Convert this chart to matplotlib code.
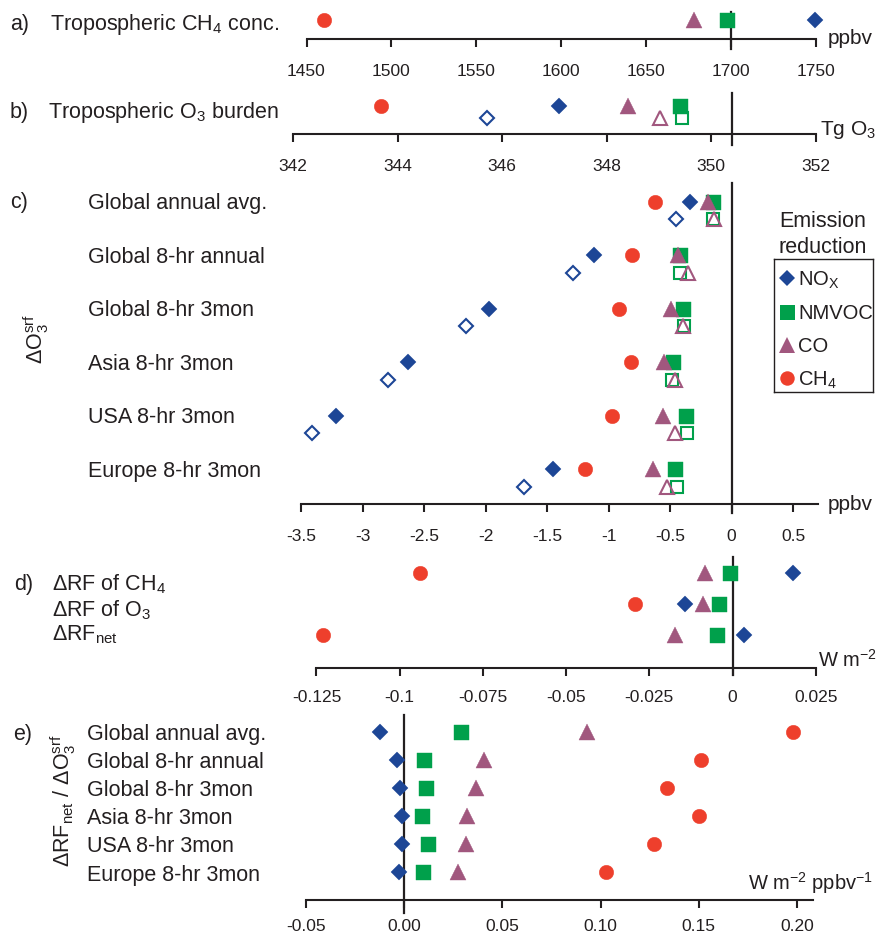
import matplotlib
matplotlib.use("Agg")
import matplotlib.pyplot as plt

plt.rcParams['font.family'] = ['Liberation Sans', 'DejaVu Sans']
plt.rcParams['mathtext.fontset'] = 'custom'
plt.rcParams['mathtext.rm'] = 'Liberation Sans'
plt.rcParams['mathtext.it'] = 'Liberation Sans:italic'
plt.rcParams['axes.unicode_minus'] = False

W, H = 876, 938
INK = '#231f20'

# emission reduction experiments
sources = ['NOx', 'NMVOC', 'CO', 'CH4']
legend_labels = ['NO$_\\mathregular{X}$', 'NMVOC', 'CO', 'CH$_\\mathregular{4}$']
colors = ['#1d4696', '#00a04b', '#a1577e', '#ee3f2c']
markers = ['D', 's', '^', 'o']

# a) tropospheric CH4 conc. (ppbv), order = sources
ch4_conc = [1749.4, 1698.0, 1678.5, 1460.1]
ch4_base = 1700
ch4_ticks = [1450, 1500, 1550, 1600, 1650, 1700, 1750]

# b) tropospheric O3 burden (Tg O3)
o3_burden = [347.09, 349.40, 348.40, 343.69]
o3_burden_open = [345.71, 349.45, 349.02]   # NOx, NMVOC, CO (hollow)
o3_base = 350.4
o3_ticks = [342, 344, 346, 348, 350, 352]

# c) change in surface O3 (ppbv)
metrics = ['Global annual avg.', 'Global 8-hr annual', 'Global 8-hr 3mon',
           'Asia 8-hr 3mon', 'USA 8-hr 3mon', 'Europe 8-hr 3mon']
do3_nox = [-0.34, -1.118, -1.97, -2.63, -3.216, -1.451]
do3_nmvoc = [-0.155, -0.417, -0.395, -0.479, -0.37, -0.463]
do3_co = [-0.19, -0.439, -0.494, -0.55, -0.556, -0.639]
do3_ch4 = [-0.624, -0.812, -0.917, -0.815, -0.969, -1.195]
do3_nox_open = [-0.454, -1.287, -2.16, -2.79, -3.41, -1.69]
do3_nmvoc_open = [-0.155, -0.423, -0.386, -0.485, -0.361, -0.448]
do3_co_open = [-0.14, -0.355, -0.395, -0.463, -0.463, -0.525]
do3_ticks = [-3.5, -3, -2.5, -2, -1.5, -1, -0.5, 0, 0.5]

# d) radiative forcing (W m-2)
rf_rows = ['ΔRF of CH$_\\mathregular{4}$', 'ΔRF of O$_\\mathregular{3}$',
           'ΔRF$_\\mathregular{net}$']
rf_nox = [0.0183, -0.0142, 0.0036]
rf_nmvoc = [-0.0009, -0.0040, -0.0047]
rf_co = [-0.0083, -0.0090, -0.0172]
rf_ch4 = [-0.0940, -0.0292, -0.1229]
rf_ticks = [-0.125, -0.1, -0.075, -0.05, -0.025, 0, 0.025]
rf_ticklabels = ['-0.125', '-0.1', '-0.075', '-0.05', '-0.025', '0', '0.025']

# e) net RF per unit surface O3 change (W m-2 ppbv-1)
eff_nox = [-0.0120, -0.0034, -0.0021, -0.0012, -0.0012, -0.0026]
eff_nmvoc = [0.0290, 0.0103, 0.0112, 0.0090, 0.0124, 0.0096]
eff_co = [0.093, 0.0409, 0.0366, 0.0323, 0.0318, 0.0275]
eff_ch4 = [0.198, 0.151, 0.134, 0.150, 0.127, 0.103]
eff_ticks = [-0.05, 0.0, 0.05, 0.10, 0.15, 0.20]
eff_ticklabels = ['-0.05', '0.00', '0.05', '0.10', '0.15', '0.20']

FILLED_MS = {'D': 8.2, 's': 10.8, '^': 11.5, 'o': 10.4}
HOLLOW_MS = {'D': 7.4, 's': 9.3, '^': 10.2}

fig = plt.figure(figsize=(W / 100, H / 100), dpi=100)


def panel(lo, hi, x0, x1, top, axis, row0, sp, pad=12):
    # axes whose bottom spine is the drawn axis line, rows counted downward
    ax = fig.add_axes([x0 / W, 1 - axis / H, (x1 - x0) / W, (axis - top) / H])
    ax.set_xlim(lo, hi)
    ax.set_ylim((axis - row0) / sp, (top - row0) / sp)
    ax.set_facecolor('none')
    for s in ['left', 'right', 'top']:
        ax.spines[s].set_visible(False)
    ax.spines['bottom'].set_linewidth(1.5)
    ax.spines['bottom'].set_color(INK)
    ax.set_yticks([])
    ax.tick_params(axis='x', direction='out', length=6, width=1.5, color=INK,
                   pad=pad, labelsize=12.5, labelcolor=INK)
    return ax


def ref_line(ax, x, y_top, y_bot, top, axis):
    h = axis - top
    ax.axvline(x, ymin=(axis - y_bot) / h, ymax=(axis - y_top) / h,
               color=INK, lw=1.6, clip_on=False, zorder=1)


def dots(ax, xs, ys, i, hollow=False):
    m = markers[i]
    if hollow:
        ax.plot(xs, ys, ls='none', marker=m, ms=HOLLOW_MS[m], mfc='none',
                mec=colors[i], mew=1.5, clip_on=False, zorder=3)
    else:
        ax.plot(xs, ys, ls='none', marker=m, ms=FILLED_MS[m], mfc=colors[i],
                mec=colors[i], mew=0.3, clip_on=False, zorder=4)


def label(x, y, s, size=15.5, **kw):
    fig.text(x / W, 1 - y / H, s, fontsize=size, color=INK, va='baseline',
             ha='left', **kw)


# ---- a) CH4 concentration
ax = panel(1450, 1750, 306.5, 815.7, 5, 39.3, 20, 20)
ax.set_xticks(ch4_ticks)
ref_line(ax, ch4_base, 12, 49, 5, 39.3)
for i in range(len(sources)):
    dots(ax, [ch4_conc[i]], [0], i)
label(10, 30, 'a)')
label(50, 30, 'Tropospheric CH$_\\mathregular{4}$ conc.')
label(828, 44, 'ppbv', 15)

# ---- b) O3 burden
sp_b = 12.3
ax = panel(342, 352, 293, 815.7, 85, 134.3, 106, sp_b)
ax.set_xticks(o3_ticks)
ref_line(ax, o3_base, 93, 145, 85, 134.3)
for i in range(len(o3_burden_open)):
    dots(ax, [o3_burden_open[i]], [1], i, hollow=True)
for i in range(len(sources)):
    dots(ax, [o3_burden[i]], [0], i)
label(10, 118, 'b)')
label(48, 118, 'Tropospheric O$_\\mathregular{3}$ burden')
label(820, 135, 'Tg O$_\\mathregular{3}$', 15)

# ---- c) surface O3 change
sp_c = 53.5
off_c = 17.7 / sp_c
rows = list(range(len(metrics)))
ax = panel(-3.5, 0.70, 301, 817.8, 175, 504.3, 201.7, sp_c)
ax.set_xticks(do3_ticks)
ax.set_xticklabels([f'{t:g}' for t in do3_ticks])
ref_line(ax, 0, 183.3, 513, 175, 504.3)
c_open = [do3_nox_open, do3_nmvoc_open, do3_co_open]
c_filled = [do3_nox, do3_nmvoc, do3_co, do3_ch4]
for i, vals in enumerate(c_open):
    dots(ax, vals, [r + off_c for r in rows], i, hollow=True)
for i, vals in enumerate(c_filled):
    dots(ax, vals, rows, i)
label(10, 208, 'c)')
for r, name in zip(rows, metrics):
    label(88, 201.7 + sp_c * r + 7.5, name)
fig.text(36 / W, 1 - 339 / H, 'ΔO$_\\mathregular{3}^\\mathregular{srf}$',
         fontsize=15.5, color=INK, rotation=90, ha='center', va='center')
label(828, 510, 'ppbv', 15)

# legend
lg = fig.add_axes([774.3 / W, 1 - 392.3 / H, (872.7 - 774.3) / W, (392.3 - 259.3) / H])
lg.set_xlim(0, 872.7 - 774.3)
lg.set_ylim(392.3 - 259.3, 0)
lg.set_xticks([])
lg.set_yticks([])
for s in lg.spines.values():
    s.set_linewidth(1.0)
    s.set_color(INK)
for i, name in enumerate(legend_labels):
    yy = 19 + 33.3 * i
    lg.plot([13], [yy], ls='none', marker=markers[i], ms=FILLED_MS[markers[i]],
            color=colors[i], mew=0)
    lg.text(24, yy + 7, name, fontsize=14.5, color=INK, va='baseline', ha='left')
fig.text(823 / W, 1 - 226.7 / H, 'Emission', fontsize=15.5, color=INK,
         ha='center', va='baseline')
fig.text(823 / W, 1 - 252.7 / H, 'reduction', fontsize=15.5, color=INK,
         ha='center', va='baseline')

# ---- d) radiative forcing
sp_d = 30.9
ax = panel(-0.125, 0.025, 316.5, 815.7, 550, 668, 573.3, sp_d, pad=10)
ax.set_xticks(rf_ticks)
ax.set_xticklabels(rf_ticklabels)
ref_line(ax, 0, 556.7, 675, 550, 668)
rows_d = list(range(len(rf_rows)))
for i, vals in enumerate([rf_nox, rf_nmvoc, rf_co, rf_ch4]):
    dots(ax, vals, rows_d, i)
label(14, 590, 'd)')
for y, name in zip([590, 616.7, 640], rf_rows):
    label(52, y, name)
label(818, 666.7, 'W m$^\\mathregular{-2}$', 14.5)

# ---- e) RF efficiency
sp_e = 28.1
ax = panel(-0.05, 0.2083, 305.7, 813.4, 705, 900, 731.7, sp_e, pad=8)
ax.set_xticks(eff_ticks)
ax.set_xticklabels(eff_ticklabels)
ref_line(ax, 0, 715, 913, 705, 900)
for i, vals in enumerate([eff_nox, eff_nmvoc, eff_co, eff_ch4]):
    dots(ax, vals, rows, i)
label(13, 740, 'e)')
for r, name in zip(rows, metrics):
    label(87, 731.7 + sp_e * r + 8.3, name)
fig.text(63 / W, 1 - 801 / H,
         'ΔRF$_\\mathregular{net}$ / ΔO$_\\mathregular{3}^\\mathregular{srf}$',
         fontsize=15.5, color=INK, rotation=90, ha='center', va='center')
label(748, 890, 'W m$^\\mathregular{-2}$ ppbv$^\\mathregular{-1}$', 14.5)

fig.savefig('out.png', dpi=100)
